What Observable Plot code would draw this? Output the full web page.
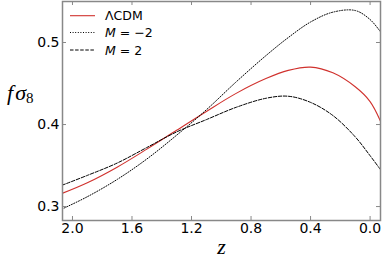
<!DOCTYPE html>
<html><head><meta charset="utf-8">
<script src="https://cdn.jsdelivr.net/npm/d3@7"></script>
<script src="https://cdn.jsdelivr.net/npm/@observablehq/plot@0.6"></script>
<style>html,body{margin:0;padding:0;background:#fff} svg{display:block}</style>
</head><body><div id="chart"></div>
<script>
// Data
const zValues = [2.07, 1.9, 1.7, 1.5, 1.3, 1.1, 0.9, 0.7, 0.55, 0.4, 0.25, 0.1, 0.0, -0.07];
const lcdm    = [0.316, 0.329, 0.348, 0.370, 0.393, 0.416, 0.438, 0.456, 0.466, 0.470, 0.463, 0.446, 0.428, 0.404];
const mMinus2 = [0.297, 0.312, 0.333, 0.358, 0.387, 0.418, 0.452, 0.484, 0.506, 0.525, 0.537, 0.539, 0.528, 0.513];
const mPlus2  = [0.326, 0.338, 0.353, 0.372, 0.391, 0.406, 0.421, 0.432, 0.4345, 0.427, 0.411, 0.385, 0.362, 0.345];
const xTicks = [2.0, 1.6, 1.2, 0.8, 0.4, 0.0];
const yTicks = [0.3, 0.4, 0.5];
const seriesNames = ["ΛCDM", "M = −2", "M = 2"];

const toRows = vals => zValues.map((z, i) => ({z, v: vals[i]}));

const W = 382, H = 260, mL = 62, mR = 2, mT = 1, mB = 40;
const innerW = W - mL - mR, innerH = H - mT - mB;
const frameColor = "#888";
const red = "#d0312d";

const chart = Plot.plot({
  width: W, height: H,
  marginLeft: mL, marginRight: mR, marginTop: mT, marginBottom: mB,
  style: {fontFamily: "DejaVu Sans", fontSize: "14px", color: "#000", background: "#fff"},
  x: {domain: [2.067, -0.07]},
  y: {domain: [0.283, 0.55]},
  marks: [
    Plot.line(toRows(lcdm), {x: "z", y: "v", stroke: red, strokeWidth: 1.1, curve: "catmull-rom", clip: true}),
    Plot.line(toRows(mMinus2), {x: "z", y: "v", stroke: "#000", strokeWidth: 1, strokeDasharray: "1,1.6", curve: "catmull-rom", clip: true}),
    Plot.line(toRows(mPlus2), {x: "z", y: "v", stroke: "#000", strokeWidth: 1, strokeDasharray: "3.5,1.6", curve: "catmull-rom", clip: true}),
    Plot.tickX(xTicks, {x: d => d, insetTop: innerH - 4, stroke: frameColor}),
    Plot.tickX(xTicks, {x: d => d, insetBottom: innerH - 4, stroke: frameColor}),
    Plot.tickY(yTicks, {y: d => d, insetRight: innerW - 4, stroke: frameColor}),
    Plot.tickY(yTicks, {y: d => d, insetLeft: innerW - 4, stroke: frameColor}),
    Plot.frame({stroke: frameColor, strokeWidth: 1.5}),
    Plot.axisX(xTicks, {tickSize: 0, tickPadding: 3, label: null, tickFormat: d => d.toFixed(1), fontSize: 14}),
    Plot.axisY(yTicks, {tickSize: 0, tickPadding: 3, label: null, tickFormat: d => d.toFixed(1), fontSize: 14})
  ]
});
document.getElementById("chart").appendChild(chart);

const svg = d3.select(chart);
// Legend
const leg = svg.append("g").attr("font-family", "DejaVu Sans").attr("font-size", 12.5).attr("text-anchor", "start");
const legStyles = [
  {stroke: red, dash: null, w: 1.1},
  {stroke: "#000", dash: "1,1.6", w: 1},
  {stroke: "#000", dash: "3.5,1.6", w: 1}
];
const legY = [15.7, 32.5, 50];
seriesNames.forEach((name, i) => {
  leg.append("line").attr("x1", 70).attr("x2", 95).attr("y1", legY[i]).attr("y2", legY[i])
    .attr("stroke", legStyles[i].stroke).attr("stroke-width", legStyles[i].w)
    .attr("stroke-dasharray", legStyles[i].dash);
  const t = leg.append("text").attr("x", 105).attr("y", legY[i]).attr("dy", "0.36em").attr("text-anchor", "start");
  if (name.startsWith("M")) {
    t.append("tspan").attr("font-style", "italic").text("M");
    t.append("tspan").text(name.slice(1));
  } else {
    t.text(name);
  }
});
// y label
const yl = svg.append("text").attr("x", 7).attr("y", 100).attr("text-anchor", "start")
  .attr("font-family", "Liberation Serif").attr("font-size", 22).attr("fill", "#000");
yl.append("tspan").attr("font-style", "italic").text("f");
yl.append("tspan").attr("font-style", "italic").attr("dx", 2).text("σ");
yl.append("tspan").attr("font-size", 15).attr("dy", 3).text("8");
// x label
svg.append("text").attr("x", 221.5).attr("y", 254).attr("text-anchor", "middle")
  .attr("font-family", "Liberation Serif").attr("font-style", "italic").attr("font-size", 22).text("z");
</script>
</body></html>
